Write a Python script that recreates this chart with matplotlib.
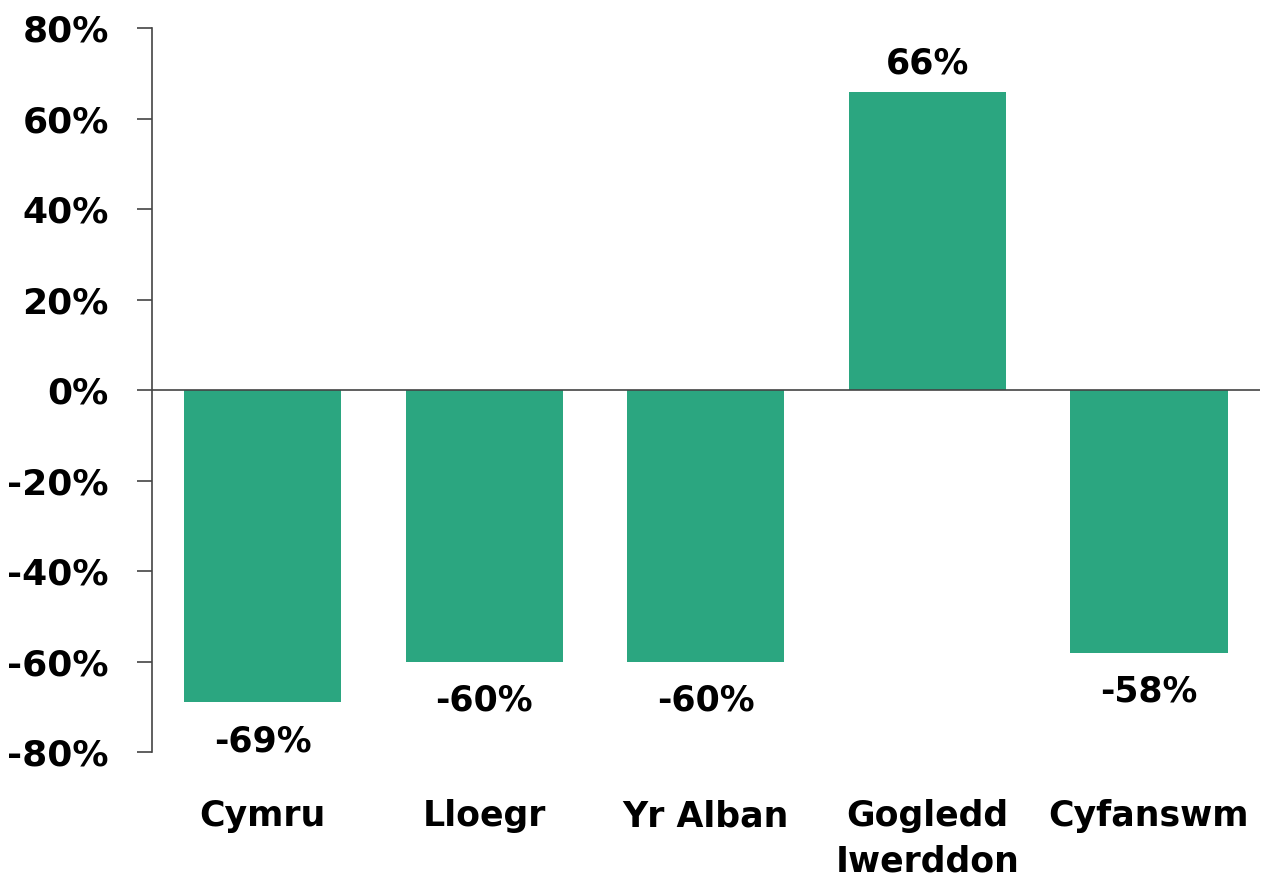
import numpy as np
import matplotlib
matplotlib.use("Agg")
import matplotlib.pyplot as plt
from matplotlib.ticker import FuncFormatter

categories = ["Cymru", "Lloegr", "Yr Alban", "Gogledd\nIwerddon", "Cyfanswm"]
values = [-69, -60, -60, 66, -58]
yticks = [-80, -60, -40, -20, 0, 20, 40, 60, 80]

bar_color = "#2ba680"

plt.rcParams["font.family"] = ["DejaVu Sans"]
plt.rcParams["font.weight"] = "bold"

fig = plt.figure(figsize=(12.66, 8.86), dpi=100)
ax = fig.add_axes([0.12, 0.151, 0.875, 0.817])

x = np.arange(len(categories))
bars = ax.bar(x, values, width=0.71, color=bar_color, zorder=2)

ax.axhline(0, color="#444444", linewidth=1.2, zorder=3)

for xi, v in zip(x, values):
    if v >= 0:
        ax.annotate(f"{v}%", (xi, v), xytext=(0, 8), textcoords="offset points",
                    ha="center", va="bottom", fontsize=25, fontweight="bold")
    else:
        ax.annotate(f"{v}%", (xi, v), xytext=(0, -16), textcoords="offset points",
                    ha="center", va="top", fontsize=25, fontweight="bold")

ax.set_xlim(-0.5, len(categories) - 0.5)
ax.set_ylim(-80, 80)
ax.set_yticks(yticks)
ax.yaxis.set_major_formatter(FuncFormatter(lambda v, p: f"{int(v)}%"))
ax.set_xticks(x)
ax.set_xticklabels(categories, fontsize=25, fontweight="bold", linespacing=1.4)
ax.tick_params(axis="x", length=0, pad=34)
ax.tick_params(axis="y", length=11, width=1.2, color="#444444", labelsize=26, pad=20)
for lbl in ax.get_yticklabels():
    lbl.set_fontweight("bold")

for side in ["top", "right", "bottom"]:
    ax.spines[side].set_visible(False)
ax.spines["left"].set_color("#444444")
ax.spines["left"].set_linewidth(1.2)

fig.savefig("out.png", dpi=100)
